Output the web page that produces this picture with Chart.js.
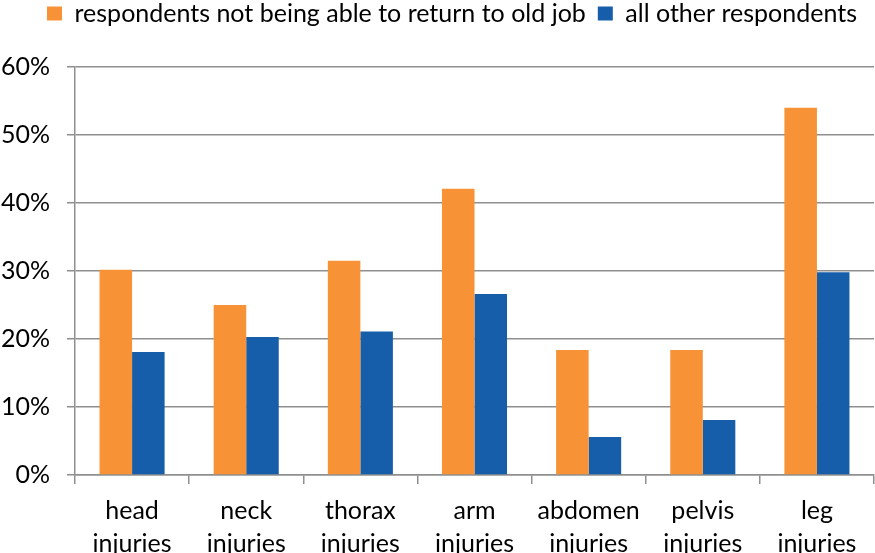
<!DOCTYPE html>
<html>
<head>
<meta charset="utf-8">
<script src="https://cdn.jsdelivr.net/npm/chart.js@4"></script>
<style>
  html, body { margin: 0; padding: 0; background: #ffffff; }
  #wrap { width: 875px; height: 553px; }
</style>
</head>
<body>
<div id="wrap"><canvas id="c" width="875" height="553"></canvas></div>
<script>
const categories = [
  ["head", "injuries"],
  ["neck", "injuries"],
  ["thorax", "injuries"],
  ["arm", "injuries"],
  ["abdomen", "injuries"],
  ["pelvis", "injuries"],
  ["leg", "injuries"]
];
const seriesNames = ["respondents not being able to return to old job", "all other respondents"];
const notReturning = [30.2, 25.0, 31.5, 42.1, 18.4, 18.4, 54.0];
const allOthers = [18.1, 20.3, 21.1, 26.6, 5.6, 8.1, 29.8];
const yTicks = [0, 10, 20, 30, 40, 50, 60];

const FONT = "Lato";
const FS = 25;
const gridGray = "#8f8f8f";

// legend placement: fixed height reserved above the plot, items placed near the top-left
const legendLayout = {
  id: "legendLayout",
  beforeLayout(chart) {
    const lg = chart.legend;
    if (lg && !lg._wrappedFit) {
      const orig = lg.fit.bind(lg);
      lg.fit = function () { orig(); this.height = 67; };
      lg._wrappedFit = true;
    }
  },
  afterLayout(chart) {
    const lg = chart.legend;
    if (lg) {
      lg.top = -11;
      lg.left = 35;
      lg.right = 875;
    }
  }
};

new Chart(document.getElementById("c"), {
  type: "bar",
  data: {
    labels: categories,
    datasets: [
      { label: seriesNames[0], data: notReturning, backgroundColor: "#F79236", borderWidth: 0 },
      { label: seriesNames[1], data: allOthers, backgroundColor: "#165DAA", borderWidth: 0 }
    ]
  },
  plugins: [legendLayout],
  options: {
    responsive: false,
    animation: false,
    devicePixelRatio: 1,
    layout: { padding: { left: 0, right: 1, top: 0, bottom: 0 } },
    datasets: { bar: { categoryPercentage: 0.57, barPercentage: 1.0 } },
    plugins: {
      tooltip: { enabled: false },
      legend: {
        position: "top",
        align: "start",
        labels: {
          color: "#000",
          font: { family: FONT, size: FS },
          boxWidth: 15,
          boxHeight: 14,
          padding: 12
        }
      }
    },
    scales: {
      x: {
        grid: { offset: true, drawOnChartArea: false, color: gridGray, lineWidth: 1.5, tickLength: 9 },
        border: { display: true, color: gridGray, width: 1.5 },
        ticks: { color: "#000", font: { family: FONT, size: FS, lineHeight: 1.3 }, padding: 11, maxRotation: 0, autoSkip: false },
        afterFit: (s) => { s.height = 78; }
      },
      y: {
        min: 0,
        max: 60,
        afterBuildTicks: (s) => { s.ticks = yTicks.map(v => ({ value: v })); },
        grid: { color: gridGray, lineWidth: 1.5, tickLength: 8 },
        border: { display: true, color: gridGray, width: 1.5 },
        ticks: { color: "#000", font: { family: FONT, size: FS }, padding: 17, callback: (v) => v + "%" },
        afterFit: (s) => { s.width = 75; }
      }
    }
  }
});
</script>
</body>
</html>
